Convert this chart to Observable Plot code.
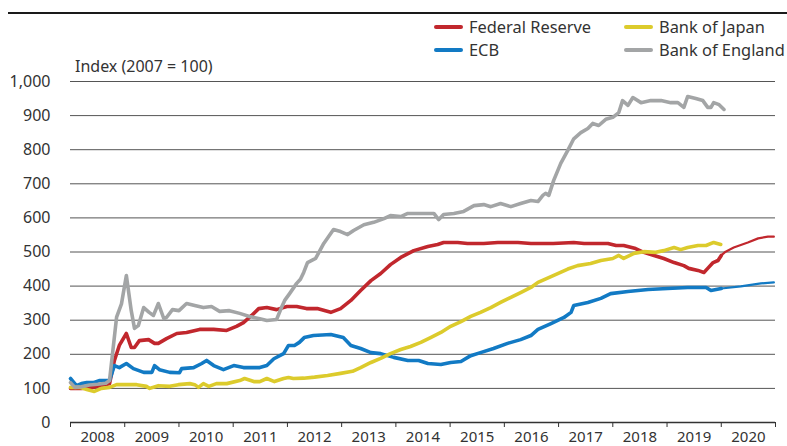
<!DOCTYPE html>
<html><head><meta charset="utf-8">
<script src="https://cdn.jsdelivr.net/npm/d3@7"></script>
<script src="https://cdn.jsdelivr.net/npm/@observablehq/plot@0.6"></script>
<style>
body{margin:0;background:#fff;font-family:"Noto Sans",sans-serif;color:#333;}
#wrap{position:relative;width:787px;height:446px;overflow:hidden;}
#rule{position:absolute;left:8px;top:12px;width:779px;height:2px;background:#1a1a1a;}
#legend{position:absolute;left:434px;top:15px;display:grid;grid-template-columns:190px auto;font-size:16.4px;line-height:23px;}
.item{display:flex;align-items:center;white-space:nowrap;}
.sw{display:inline-block;width:29px;height:4px;border-radius:2px;margin-right:6px;}
#ylab{position:absolute;left:75px;top:56px;font-size:16px;line-height:20px;}
#chart{position:absolute;left:0;top:0;}
</style>
</head><body>
<div id="wrap">
  <div id="chart"></div>
  <div id="rule"></div>
  <div id="legend"></div>
  <div id="ylab"></div>
</div>
<script>
const seriesNames = ["Federal Reserve", "Bank of Japan", "ECB", "Bank of England"];
const seriesColors = ["#c1272d", "#dccb2c", "#127ac4", "#a3a5a6"];
const yLabel = "Index (2007 = 100)";
const yTicks = [0, 100, 200, 300, 400, 500, 600, 700, 800, 900, 1000];
const yearTicks = [2008, 2009, 2010, 2011, 2012, 2013, 2014, 2015, 2016, 2017, 2018, 2019, 2020, 2021];
const yearLabels = ["2008","2009","2010","2011","2012","2013","2014","2015","2016","2017","2018","2019","2020"];

const fed = [[2008.0,100],[2008.2,100],[2008.42,103],[2008.54,108],[2008.72,114],[2008.81,182],[2008.90,226],[2009.03,261],[2009.12,220],[2009.18,220],[2009.27,240],[2009.44,243],[2009.55,232],[2009.62,232],[2009.77,246],[2009.96,261],[2010.14,264],[2010.38,273],[2010.64,273],[2010.88,270],[2011.06,282],[2011.19,293],[2011.34,314],[2011.47,334],[2011.62,337],[2011.80,331],[2011.99,340],[2012.17,340],[2012.35,334],[2012.55,334],[2012.80,323],[2012.98,334],[2013.17,358],[2013.35,387],[2013.54,416],[2013.72,437],[2013.90,463],[2014.09,484],[2014.33,504],[2014.59,516],[2014.77,522],[2014.88,528],[2015.14,528],[2015.32,525],[2015.62,525],[2015.88,528],[2016.06,528],[2016.25,528],[2016.49,525],[2016.9,525],[2017.28,528],[2017.47,525],[2017.91,525],[2018.06,519],[2018.20,519],[2018.42,510],[2018.57,499],[2018.76,490],[2018.94,481],[2019.13,469],[2019.31,460],[2019.40,452],[2019.57,446],[2019.68,440],[2019.75,452],[2019.85,469],[2019.94,475],[2020.0,490]];
const fedProj = [[2020.0,490],[2020.08,501],[2020.23,513],[2020.49,528],[2020.68,540],[2020.86,545],[2020.97,545]];

const ecb = [[2008.0,129],[2008.11,108],[2008.20,114],[2008.30,117],[2008.42,117],[2008.54,123],[2008.72,123],[2008.81,167],[2008.90,161],[2009.03,173],[2009.16,158],[2009.35,147],[2009.50,147],[2009.55,167],[2009.64,155],[2009.83,147],[2010.01,146],[2010.05,158],[2010.27,161],[2010.42,173],[2010.51,182],[2010.64,167],[2010.82,155],[2011.01,167],[2011.19,161],[2011.49,161],[2011.62,167],[2011.75,187],[2011.93,202],[2012.02,226],[2012.13,226],[2012.22,235],[2012.31,249],[2012.48,255],[2012.80,258],[2013.03,249],[2013.17,226],[2013.35,217],[2013.54,205],[2013.72,202],[2013.96,191],[2014.22,182],[2014.42,182],[2014.59,173],[2014.83,170],[2015.01,176],[2015.20,179],[2015.38,196],[2015.56,205],[2015.80,217],[2016.06,232],[2016.30,243],[2016.49,255],[2016.62,273],[2016.86,290],[2017.10,308],[2017.23,323],[2017.28,343],[2017.54,352],[2017.78,364],[2017.96,378],[2018.28,384],[2018.65,390],[2019.01,393],[2019.38,396],[2019.72,396],[2019.81,387],[2020.0,393]];
const ecbProj = [[2020.0,393],[2020.36,399],[2020.73,408],[2020.97,411]];

const boj = [[2008.0,103],[2008.17,103],[2008.30,97],[2008.44,91],[2008.57,100],[2008.72,103],[2008.85,111],[2009.03,111],[2009.22,111],[2009.40,106],[2009.46,100],[2009.62,108],[2009.83,106],[2009.99,111],[2010.20,114],[2010.29,111],[2010.36,103],[2010.45,114],[2010.55,106],[2010.69,114],[2010.88,114],[2011.12,123],[2011.21,129],[2011.38,120],[2011.49,120],[2011.62,129],[2011.76,120],[2011.93,129],[2012.02,132],[2012.11,129],[2012.30,130],[2012.50,133],[2012.74,138],[2012.98,144],[2013.20,150],[2013.35,161],[2013.54,176],[2013.72,188],[2013.90,202],[2014.09,214],[2014.27,223],[2014.46,235],[2014.64,249],[2014.83,264],[2015.01,282],[2015.20,296],[2015.38,311],[2015.56,323],[2015.75,337],[2015.93,352],[2016.12,367],[2016.30,381],[2016.49,396],[2016.62,411],[2016.86,428],[2017.17,450],[2017.35,460],[2017.59,466],[2017.78,475],[2018.00,481],[2018.11,490],[2018.20,481],[2018.39,496],[2018.57,501],[2018.79,499],[2018.94,504],[2019.13,513],[2019.25,507],[2019.38,513],[2019.57,519],[2019.72,519],[2019.86,528],[2019.99,522]];

const boe = [[2008.0,117],[2008.08,103],[2008.2,105],[2008.35,110],[2008.5,112],[2008.65,115],[2008.72,123],[2008.85,309],[2008.94,348],[2009.03,431],[2009.12,328],[2009.18,276],[2009.25,284],[2009.35,337],[2009.45,323],[2009.53,314],[2009.62,349],[2009.72,305],[2009.77,308],[2009.88,331],[2010.0,328],[2010.14,349],[2010.29,343],[2010.45,337],[2010.60,340],[2010.75,326],[2010.93,328],[2011.12,320],[2011.30,311],[2011.49,304],[2011.62,299],[2011.80,302],[2011.89,337],[2011.95,358],[2012.04,378],[2012.17,408],[2012.24,420],[2012.30,440],[2012.37,469],[2012.52,481],[2012.67,525],[2012.85,566],[2012.98,560],[2013.11,551],[2013.22,563],[2013.41,580],[2013.59,587],[2013.78,598],[2013.90,607],[2014.09,604],[2014.22,613],[2014.40,613],[2014.59,613],[2014.70,613],[2014.79,595],[2014.88,610],[2015.07,613],[2015.25,619],[2015.44,636],[2015.62,639],[2015.75,633],[2015.93,642],[2016.12,633],[2016.30,642],[2016.49,651],[2016.62,648],[2016.71,666],[2016.76,672],[2016.82,666],[2016.91,710],[2017.04,760],[2017.17,798],[2017.28,832],[2017.41,850],[2017.54,862],[2017.63,877],[2017.74,871],[2017.87,889],[2018.00,895],[2018.11,909],[2018.18,944],[2018.28,930],[2018.37,953],[2018.52,938],[2018.70,944],[2018.89,944],[2019.07,938],[2019.20,938],[2019.31,924],[2019.38,956],[2019.53,950],[2019.66,944],[2019.75,924],[2019.81,924],[2019.86,938],[2019.96,932],[2020.05,918]];

const X = d => d[0], Y = d => d[1];
const lineOpts = (color, w) => ({x: X, y: Y, stroke: color, strokeWidth: w, strokeLinejoin: "round", strokeLinecap: "round"});

const chart = Plot.plot({
  width: 787, height: 446,
  marginTop: 81, marginBottom: 24, marginLeft: 70, marginRight: 12,
  x: {domain: [2008, 2021]},
  y: {domain: [0, 1000]},
  style: {fontFamily: "'Noto Sans', sans-serif", fontSize: "16px", color: "#333", background: "transparent", overflow: "visible"},
  marks: [
    Plot.ruleY(yTicks.filter(v => v > 0), {stroke: "#555", strokeWidth: 1}),
    Plot.ruleY([0], {stroke: "#333", strokeWidth: 1.5}),
    Plot.axisY({ticks: yTicks, tickSize: 0, tickPadding: 20, tickFormat: d3.format(","), label: null}),
    Plot.axisX({ticks: yearTicks, tickSize: 5, tickFormat: () => "", label: null, stroke: "#333"}),
    Plot.axisX({ticks: yearLabels.map(s => +s + 0.5), tickSize: 0, tickPadding: 9, fontSize: 15, tickFormat: d => yearLabels[Math.floor(d) - 2008], label: null}),
    Plot.line(fed, lineOpts(seriesColors[0], 3.6)),
    Plot.line(fedProj, lineOpts(seriesColors[0], 2.2)),
    Plot.line(ecb, lineOpts(seriesColors[2], 3.6)),
    Plot.line(ecbProj, lineOpts(seriesColors[2], 2.2)),
    Plot.line(boj, lineOpts(seriesColors[1], 3.6)),
    Plot.line(boe, lineOpts(seriesColors[3], 3.6))
  ]
});
document.getElementById("chart").appendChild(chart);

const legend = document.getElementById("legend");
seriesNames.forEach((name, i) => {
  const it = document.createElement("div");
  it.className = "item";
  const sw = document.createElement("span");
  sw.className = "sw";
  sw.style.background = seriesColors[i];
  it.appendChild(sw);
  it.appendChild(document.createTextNode(name));
  legend.appendChild(it);
});
document.getElementById("ylab").textContent = yLabel;
</script>
</body></html>
